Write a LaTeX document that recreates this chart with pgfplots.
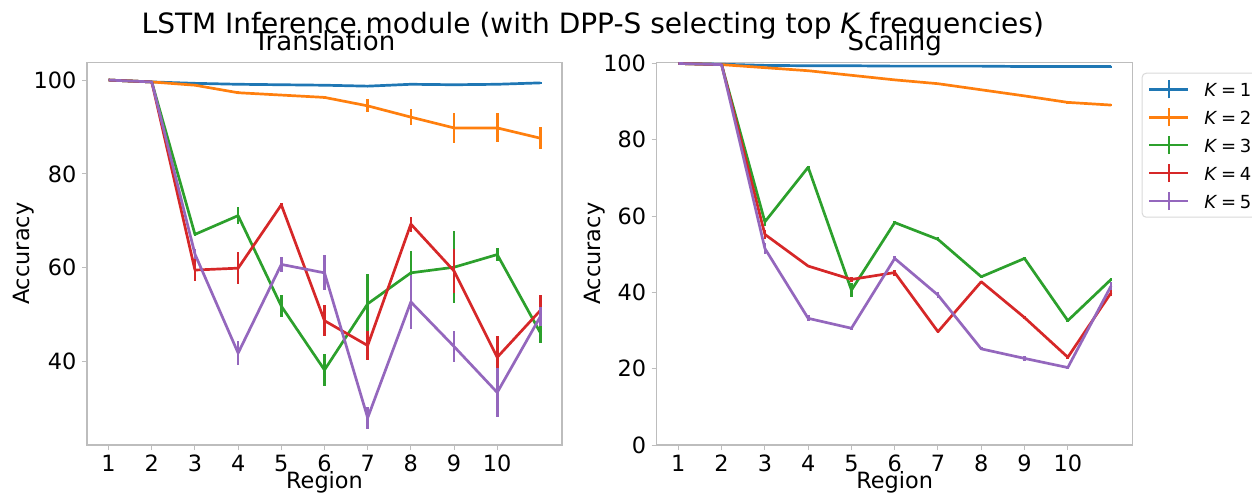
\documentclass[border=0pt]{standalone}
\usepackage{fontspec}
\setmainfont{DejaVu Sans}
\usepackage{pgfplots}
\pgfplotsset{compat=1.18}
\definecolor{c0}{HTML}{1F77B4}
\definecolor{c1}{HTML}{FF7F0E}
\definecolor{c2}{HTML}{2CA02C}
\definecolor{c3}{HTML}{D62728}
\definecolor{c4}{HTML}{9467BD}
\definecolor{axgray}{rgb}{0.74,0.74,0.74}
\newcommand{\Kis}[1]{\textit{K}\hspace{1.85pt}=\hspace{1.85pt}#1}
\pgfplotsset{
  myax/.style={
    scale only axis, width=237.5pt, height=191.15pt,
    xmin=-0.5, xmax=10.5,
    xtick={0,1,2,3,4,5,6,7,8,9}, xticklabels={1,2,3,4,5,6,7,8,9,10},
    tick align=outside, xtick pos=bottom, ytick pos=left,
    major tick length=2.5pt,
    tick style={color=axgray, line width=0.5pt},
    axis line style={color=axgray, line width=0.6pt},
    every tick label/.append style={font=\fontsize{11.2}{13}\selectfont, inner sep=0pt},
    /pgf/number format/assume math mode=true,
    xticklabel style={anchor=base, yshift=-10.7pt},
    yticklabel style={anchor=east, xshift=-2.65pt},
    every axis y label/.style={at={(axis description cs:-0.133,0.5)}, rotate=90, anchor=center, font=\fontsize{11.2}{13}\selectfont},
    every axis x label/.style={at={(axis description cs:0.5,0)}, anchor=base, yshift=-21.7pt, font=\fontsize{11.2}{13}\selectfont},
    title style={at={(axis description cs:0.5,1)}, anchor=base, yshift=0.2pt, font=\fontsize{13}{15}\selectfont},
    xlabel={Region}, ylabel={Accuracy},
  },
  eb/.style={no marks, line width=1.35pt, line join=round, error bars/.cd, y dir=both, y explicit, error mark=none, error bar style={line width=1.35pt, solid}},
}
\begin{document}
\begin{tikzpicture}
\useasboundingbox (0,0) rectangle (626pt,247.5pt);
\node[anchor=base, font=\fontsize{14}{16}\selectfont] at (296.4pt,230.85pt) {LSTM Inference module (with DPP-S selecting top \textit{K} frequencies)};
\begin{axis}[myax, at={(43.5pt,25pt)}, anchor=south west,
  ymin=22.2, ymax=103.7, ytick={40,60,80,100}, title={Translation}]
\addplot[color=c0, eb] table[x index=0,y index=1,y error index=2] {
0 100 0
1 99.6 0
2 99.3 0.1
3 99.1 0.1
4 99.0 0.1
5 98.9 0.1
6 98.7 0.2
7 99.1 0.1
8 99.0 0.1
9 99.1 0.1
10 99.4 0.2
};
\addplot[color=c1, eb] table[x index=0,y index=1,y error index=2] {
0 100 0
1 99.6 0.1
2 98.9 0.2
3 97.3 0.3
4 96.8 0.2
5 96.3 0.4
6 94.5 1.4
7 92.1 1.7
8 89.8 3.2
9 89.8 3.1
10 87.6 2.3
};
\addplot[color=c2, eb] table[x index=0,y index=1,y error index=2] {
0 100 0
1 99.6 0.2
2 67.1 0.3
3 71.1 1.8
4 51.8 2.3
5 38.2 3.5
6 52.3 6.4
7 58.9 4.7
8 60.1 7.7
9 62.8 1.4
10 46.1 2.1
};
\addplot[color=c3, eb] table[x index=0,y index=1,y error index=2] {
0 100 0
1 99.6 0.2
2 59.5 2.3
3 59.9 3.4
4 73.4 0.4
5 48.7 3.3
6 43.4 3.1
7 69.3 1.6
8 59.3 4.6
9 40.9 4.5
10 50.9 3.3
};
\addplot[color=c4, eb] table[x index=0,y index=1,y error index=2] {
0 100 0
1 99.6 0.2
2 62.9 1.0
3 41.8 2.6
4 60.7 1.6
5 58.9 3.75
6 28.0 2.3
7 52.7 5.7
8 43.2 3.4
9 33.4 5.2
10 49.6 2.0
};
\end{axis}
\begin{axis}[myax, at={(328.35pt,25pt)}, anchor=south west, width=238pt,
  ymin=0, ymax=100.2, ytick={0,20,40,60,80,100}, title={Scaling},
  every axis y label/.append style={at={(axis description cs:-0.1296,0.5)}},
  legend cell align=left,
  legend image code/.code={\draw[#1, line width=1.2pt] (0pt,0pt)--(19.5pt,0pt); \draw[#1, line width=1.2pt] (9.75pt,-4.5pt)--(9.75pt,4.5pt);},
  legend style={at={(axis description cs:1.0189,0.9738)}, anchor=north west, draw=black!15, rounded corners=2pt, fill=white,
    font=\fontsize{9}{10.8}\selectfont, nodes={inner sep=0pt, text height=7pt, text depth=0pt},
    row sep=3.75pt, column sep=7.35pt, inner xsep=3pt, inner ysep=3pt, line width=0.5pt}]
\addplot[color=c0, eb] table[x index=0,y index=1,y error index=2] {
0 100 0
1 99.8 0.1
2 99.5 0.1
3 99.4 0.1
4 99.4 0.1
5 99.3 0.1
6 99.3 0.1
7 99.3 0.1
8 99.2 0.1
9 99.2 0.1
10 99.2 0.1
};
\addlegendentry{\Kis{1}}
\addplot[color=c1, eb] table[x index=0,y index=1,y error index=2] {
0 100 0
1 99.7 0.1
2 98.9 0.2
3 98.1 0.2
4 96.9 0.2
5 95.7 0.2
6 94.7 0.2
7 93.1 0.2
8 91.5 0.2
9 89.8 0.4
10 89.1 0.3
};
\addlegendentry{\Kis{2}}
\addplot[color=c2, eb] table[x index=0,y index=1,y error index=2] {
0 100 0
1 99.7 0.1
2 58.5 1.0
3 72.8 0.3
4 40.6 1.8
5 58.3 0.3
6 53.9 0.5
7 44.1 0.3
8 48.9 0.3
9 32.6 0.3
10 43.4 0.4
};
\addlegendentry{\Kis{3}}
\addplot[color=c3, eb] table[x index=0,y index=1,y error index=2] {
0 100 0
1 99.7 0.1
2 55.2 1.2
3 46.9 0.3
4 43.4 0.7
5 45.2 0.8
6 29.7 0.4
7 42.8 0.3
8 33.4 0.5
9 23.0 0.4
10 39.9 0.8
};
\addlegendentry{\Kis{4}}
\addplot[color=c4, eb] table[x index=0,y index=1,y error index=2] {
0 100 0
1 99.7 0.1
2 51.5 1.5
3 33.2 0.8
4 30.6 0.4
5 48.9 0.6
6 39.3 0.8
7 25.2 0.4
8 22.7 0.6
9 20.3 0.3
10 41.7 1.0
};
\addlegendentry{\Kis{5}}
\end{axis}
\end{tikzpicture}
\end{document}
